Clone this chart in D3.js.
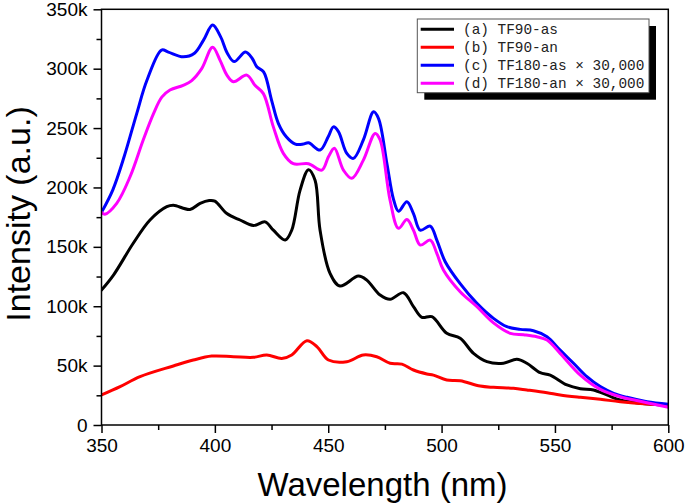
<!DOCTYPE html>
<html>
<head>
<meta charset="utf-8">
<script src="https://cdn.jsdelivr.net/npm/d3@7"></script>
<style>
  html, body { margin: 0; padding: 0; background: #fff; }
  svg { display: block; }
</style>
</head>
<body>
<svg id="chart" width="685" height="504"></svg>
<script>
// ---- data (wavelength in nm, intensity in thousands) ----
const seriesNames = ["(a) TF90-as", "(b) TF90-an", "(c) TF180-as \u00d7 30,000", "(d) TF180-an \u00d7 30,000"];
const seriesColors = ["#000000", "#ff0000", "#0000ff", "#ff00ff"];

const wlA = [350, 355.2, 364, 371.4, 378.8, 381.7, 389, 393.5, 397.5, 400, 405.3, 411.1, 417, 422.2, 425.8, 431, 433.9, 437.6, 441.3, 444.2, 446.4, 450.8, 455.2, 463.3, 467, 472.9, 477.3, 483.2, 487.6, 491.3, 495.7, 502.3, 508.2, 514.1, 520, 527.3, 533.2, 537.6, 543.5, 547.9, 555.3, 561.2, 567, 572.9, 578.8, 587.6, 600];
const valA = [113.6, 126, 153, 172.6, 183.8, 185, 181.5, 186.6, 189, 188.5, 178, 172.6, 168, 171, 164, 155.7, 164, 197.8, 215, 206, 164, 127.7, 117, 125.4, 122, 109.4, 105.8, 111.4, 99.6, 90.7, 91.2, 77.2, 73, 60.3, 53.3, 52, 55.3, 52, 44, 42, 33.7, 30.6, 29.5, 25.3, 21, 18.3, 16.5];

const wlB = [350, 358.2, 367, 381.7, 390.5, 398.6, 408.2, 417, 422.9, 429.5, 433.9, 440.6, 445, 450.1, 458.2, 465.5, 471.4, 477.3, 482.5, 487.6, 493.5, 496.4, 502.3, 508.2, 517, 522.9, 531.7, 537.6, 546.5, 552.3, 561.2, 570, 578.8, 590.6, 600];
const valB = [25.3, 32.3, 40.7, 49.7, 54.7, 58, 57.5, 57, 59, 56, 59, 71, 66, 54.7, 53.3, 59, 57.5, 52, 51.3, 46.3, 43, 42, 37.9, 37.3, 32.8, 31.7, 30.9, 29.5, 27.2, 25.3, 23.3, 21.6, 19.6, 17.7, 16.8];

const wlC = [350, 355, 360, 365.5, 370, 376.5, 379.5, 386, 391, 395, 399, 402.5, 405.5, 408.5, 413.5, 416.5, 418.5, 421.5, 425, 428, 431.5, 435.5, 439, 441.3, 446.4, 450, 452.3, 454.5, 458.2, 461.1, 465.5, 470, 472.2, 475.9, 478.8, 481, 484.7, 487.6, 490.6, 495, 497.9, 501.6, 508.2, 515.6, 522.9, 528.8, 534.7, 540.5, 546.5, 552.3, 558.2, 564.1, 570, 575.9, 581.8, 590.6, 600];
const valC = [179, 198, 226, 262, 290, 315.7, 314, 310, 313, 324, 336.7, 327, 313, 306, 314, 308.6, 301.6, 297.4, 273.6, 254, 242.7, 236.5, 236.5, 237.6, 231.5, 242.7, 251, 247, 228.7, 224.5, 240, 263.7, 258, 220, 190, 180, 188, 178, 164, 167.5, 155.7, 137.5, 119, 102.4, 89.8, 82.8, 80.5, 79.4, 74.3, 63, 52, 40.7, 32.3, 26.7, 23.3, 19.6, 17.5];

const wlD = [350, 351.5, 356.7, 362.6, 368.4, 372.9, 376.6, 380.2, 386, 389.8, 394.2, 399, 402.3, 405.3, 408.2, 414.1, 417.7, 421.4, 425.8, 430.2, 434.6, 441.3, 447.2, 450.1, 452.7, 456.7, 460.4, 465.5, 470.7, 472.9, 477.3, 481, 484.7, 487.6, 490.6, 495, 497.9, 500.8, 508.2, 515.6, 522.9, 530.3, 536.2, 542, 546.5, 552.3, 561.2, 570, 578.8, 590.6, 600];
const valD = [179, 177.5, 186.6, 209, 240, 262, 276, 282, 286, 290, 300, 318, 307, 294.6, 289, 294.6, 286, 279, 251, 228.7, 220, 220, 214.6, 225.8, 233, 214.6, 207.7, 223, 245.5, 240, 189, 165.6, 173, 164, 151.5, 155.7, 144.5, 130.5, 112.2, 99.6, 86, 77.2, 76, 74.3, 71.5, 60.3, 42, 30, 23.8, 18.8, 15];

const xTicks = [350, 400, 450, 500, 550, 600];
const yTicks = [0, 50, 100, 150, 200, 250, 300, 350];
const yTickLabels = ["0", "50k", "100k", "150k", "200k", "250k", "300k", "350k"];

// ---- layout ----
const L = 101.5, R = 668.3, T = 9.3, B = 425;
const svg = d3.select("#chart");
const x = d3.scaleLinear().domain([350, 600]).range([L, R]);
const y = d3.scaleLinear().domain([0, 350]).range([B, T]);

const wls = [wlA, wlB, wlC, wlD];
const vals = [valA, valB, valC, valD];

// clip
svg.append("clipPath").attr("id", "clip").append("rect")
  .attr("x", L).attr("y", T).attr("width", R - L).attr("height", B - T);

const line = d3.line()
  .x(d => x(d[0])).y(d => y(d[1]))
  .curve(d3.curveCatmullRom.alpha(0.5));

const g = svg.append("g").attr("clip-path", "url(#clip)");
[0, 1, 2, 3].forEach(i => {
  const pts = wls[i].map((w, j) => [w, vals[i][j]]);
  g.append("path").datum(pts)
    .attr("d", line)
    .attr("fill", "none")
    .attr("stroke", seriesColors[i])
    .attr("stroke-width", 3)
    .attr("stroke-linejoin", "round")
    .attr("stroke-linecap", "round");
});

// frame
svg.append("rect").attr("x", L).attr("y", T).attr("width", R - L).attr("height", B - T)
  .attr("fill", "none").attr("stroke", "#000").attr("stroke-width", 1.5);

// axes
const xAxis = d3.axisBottom(x).tickValues(xTicks).tickSize(8).tickPadding(6).tickFormat(d3.format("d"));
const xAxisMinor = d3.axisBottom(x).tickValues(d3.range(375, 600, 50)).tickSize(5).tickFormat("");
const yAxis = d3.axisLeft(y).tickValues(yTicks).tickSize(8).tickPadding(6).tickFormat((d, i) => yTickLabels[i]);
const yAxisMinor = d3.axisLeft(y).tickValues(d3.range(25, 350, 50)).tickSize(5).tickFormat("");

function style(sel) {
  sel.select(".domain").remove();
  sel.selectAll("line").attr("stroke", "#000").attr("stroke-width", 1.5);
  sel.selectAll("text").attr("font-family", "Arial, 'Liberation Sans', sans-serif")
    .attr("font-size", 19).attr("fill", "#000");
}
svg.append("g").attr("transform", `translate(0,${B})`).call(xAxis).call(style);
svg.append("g").attr("transform", `translate(0,${B})`).call(xAxisMinor).call(style);
svg.append("g").attr("transform", `translate(${L},0)`).call(yAxis).call(style);
svg.append("g").attr("transform", `translate(${L},0)`).call(yAxisMinor).call(style);

// axis titles
svg.append("text").attr("x", 382.5).attr("y", 496)
  .attr("text-anchor", "middle")
  .attr("font-family", "Arial, 'Liberation Sans', sans-serif")
  .attr("font-size", 33).attr("fill", "#000")
  .text("Wavelength (nm)");
svg.append("text")
  .attr("transform", "translate(30,214) rotate(-90)")
  .attr("text-anchor", "middle")
  .attr("font-family", "Arial, 'Liberation Sans', sans-serif")
  .attr("font-size", 34).attr("fill", "#000")
  .text("Intensity (a.u.)");

// legend
const lg = svg.append("g");
const lx = 417.3, ly = 19, lw = 231.7, lh = 73.7;
lg.append("rect").attr("x", lx + 7).attr("y", ly + 7).attr("width", lw).attr("height", lh).attr("fill", "#000");
lg.append("rect").attr("x", lx).attr("y", ly).attr("width", lw).attr("height", lh)
  .attr("fill", "#fff").attr("stroke", "#555").attr("stroke-width", 1);
const rowY = [29.3, 47.3, 65.3, 83.3];
seriesNames.forEach((name, i) => {
  lg.append("line").attr("x1", 420.7).attr("x2", 454).attr("y1", rowY[i]).attr("y2", rowY[i])
    .attr("stroke", seriesColors[i]).attr("stroke-width", 3);
  lg.append("text").attr("x", 463).attr("y", rowY[i]).attr("dy", "0.35em")
    .attr("font-family", "'Liberation Mono', 'Courier New', monospace")
    .attr("font-size", 14.4).attr("fill", "#222")
    .text(name);
});
</script>
</body>
</html>
